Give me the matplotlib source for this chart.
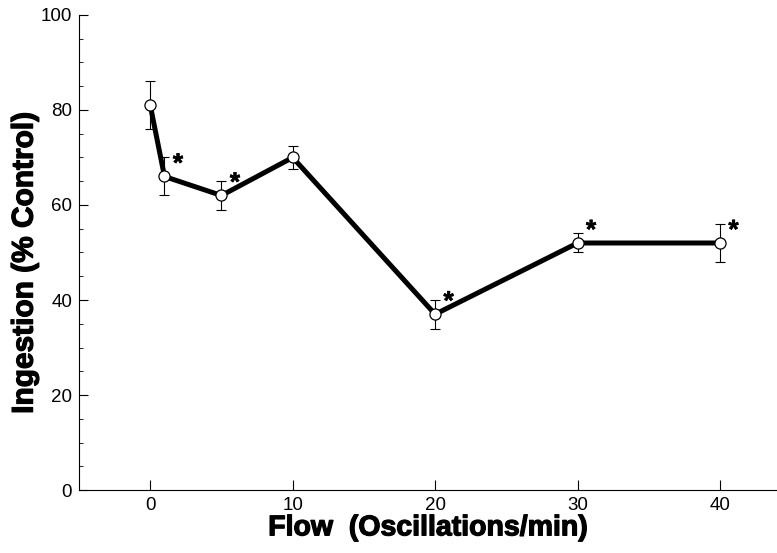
import matplotlib.pyplot as plt
import matplotlib.patheffects as pe
from matplotlib.ticker import MultipleLocator

# Ingestion vs. flow
flow = [0, 1, 5, 10, 20, 30, 40]
ingestion = [81, 66, 62, 70, 37, 52, 52]
sem = [5, 4, 3, 2.5, 3, 2, 4]
significant = [False, True, True, False, True, True, True]

plt.rcParams['font.family'] = ['Liberation Sans', 'DejaVu Sans']

fig = plt.figure(figsize=(7.77, 5.53), dpi=100)
ax = fig.add_axes([0.1017, 0.1139, 0.8983, 0.859])

ax.plot(flow, ingestion, color='black', lw=3.6, zorder=2)
ax.errorbar(flow, ingestion, yerr=sem, fmt='none', ecolor='black',
            elinewidth=0.8, capsize=3.5, capthick=0.8, zorder=3)
ax.plot(flow, ingestion, 'o', ms=8, mfc='white', mec='black', mew=0.9, zorder=4)

heavy = [pe.withStroke(linewidth=0.9, foreground='black')]

# significance stars
for x, y, s in zip(flow, ingestion, significant):
    if s:
        ax.annotate('*', (x, y), xytext=(6, 0), textcoords='offset points',
                    fontsize=19, fontweight='bold', ha='left', va='bottom',
                    path_effects=[pe.withStroke(linewidth=0.4, foreground='black')])

ax.set_xlim(-5, 44)
ax.set_ylim(0, 100)
ax.set_xticks([0, 10, 20, 30, 40])
ax.yaxis.set_major_locator(MultipleLocator(20))
ax.yaxis.set_minor_locator(MultipleLocator(5))

ax.spines['top'].set_visible(False)
ax.spines['right'].set_visible(False)
for sp in ('left', 'bottom'):
    ax.spines[sp].set_linewidth(0.8)

ax.tick_params(axis='both', direction='in', labelsize=13.5, width=0.8, pad=5)
ax.tick_params(axis='y', which='major', length=6.5)
ax.tick_params(axis='y', which='minor', length=3, width=0.6, direction='in')
ax.tick_params(axis='x', length=7)

ax.set_xlabel('Flow  (Oscillations/min)', fontsize=20.5, fontweight='bold',
              labelpad=1, path_effects=heavy)
ax.set_ylabel('Ingestion (% Control)', fontsize=21.5, fontweight='bold',
              labelpad=1.5, y=0.478, path_effects=heavy)

fig.savefig('out.png', dpi=100)
